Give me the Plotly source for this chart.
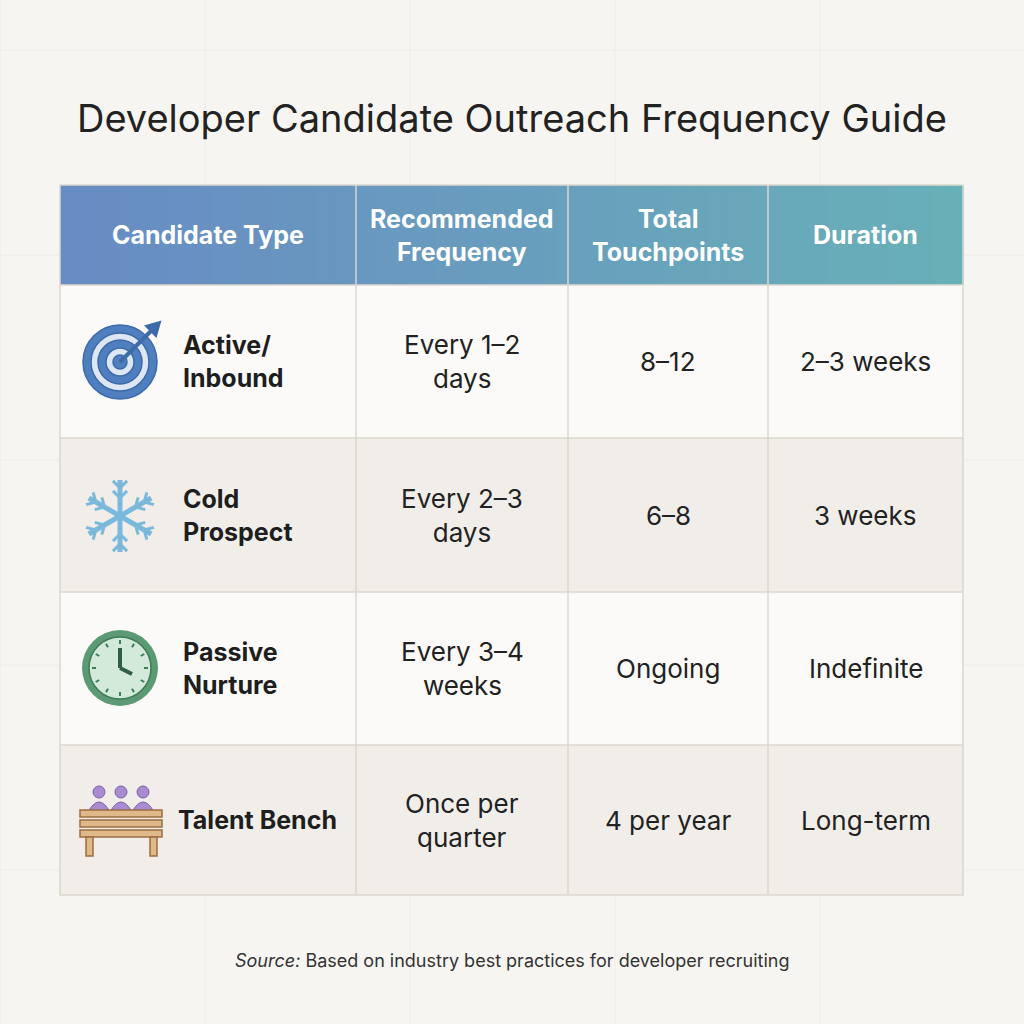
import numpy as np
import plotly.graph_objects as go

title = "Developer Candidate Outreach Frequency Guide"
headers = ["Candidate Type", "Recommended<br>Frequency", "Total<br>Touchpoints", "Duration"]
candidate_types = ["Active/<br>Inbound", "Cold<br>Prospect", "Passive<br>Nurture", "Talent Bench"]
frequencies = ["Every 1–2<br>days", "Every 2–3<br>days", "Every 3–4<br>weeks", "Once per<br>quarter"]
touchpoints = ["8–12", "6–8", "Ongoing", "4 per year"]
durations = ["2–3 weeks", "3 weeks", "Indefinite", "Long-term"]
source = "<i>Source:</i> Based on industry best practices for developer recruiting"

col_x = [60, 356, 568, 768, 963]
head_y = (185, 285)
row_y = [285, 438, 592, 745, 895]
row_fill = ["#fbfaf8", "#f1eeea", "#fbfaf8", "#f1eeea"]
line_col = "#dcd6cf"
font = "Inter, Roboto, sans-serif"

fig = go.Figure()
shapes = []
ann = []

# faint background grid
for g in range(0, 1025, 205):
    shapes.append(dict(type="line", x0=g, x1=g, y0=0, y1=1024, line=dict(color="#efece7", width=1), layer="below"))
    shapes.append(dict(type="line", x0=0, x1=1024, y0=g + 50, y1=g + 50, line=dict(color="#efece7", width=1), layer="below"))

# header gradient
c0 = np.array([104, 140, 196])
c1 = np.array([104, 176, 184])
n = 60
w = (col_x[-1] - col_x[0]) / n
for i in range(n):
    c = c0 + (c1 - c0) * i / (n - 1)
    shapes.append(dict(type="rect", x0=col_x[0] + i * w, x1=col_x[0] + (i + 1) * w + 0.8,
                       y0=head_y[0], y1=head_y[1], line=dict(width=0),
                       fillcolor="rgb(%d,%d,%d)" % tuple(c)))

for r in range(4):
    shapes.append(dict(type="rect", x0=col_x[0], x1=col_x[-1], y0=row_y[r], y1=row_y[r + 1],
                       line=dict(width=0), fillcolor=row_fill[r]))
    shapes.append(dict(type="line", x0=col_x[0], x1=col_x[-1], y0=row_y[r], y1=row_y[r],
                       line=dict(color=line_col, width=1.5)))
for cx in col_x[1:-1]:
    shapes.append(dict(type="line", x0=cx, x1=cx, y0=head_y[0], y1=row_y[-1],
                       line=dict(color=line_col, width=1.5)))
shapes.append(dict(type="rect", x0=col_x[0], x1=col_x[-1], y0=head_y[0], y1=row_y[-1],
                   line=dict(color=line_col, width=1.5)))

# header text
for i, h in enumerate(headers):
    ann.append(dict(x=(col_x[i] + col_x[i + 1]) / 2, y=sum(head_y) / 2, text="<b>%s</b>" % h,
                    font=dict(size=25, color="white", family=font)))

for r in range(4):
    yc = (row_y[r] + row_y[r + 1]) / 2
    ann.append(dict(x=181 if r < 3 else 176, y=yc, text="<b>%s</b>" % candidate_types[r], xanchor="left",
                    align="left", font=dict(size=25, color="#1e1e1e", family=font)))
    for i, vals in enumerate([frequencies, touchpoints, durations]):
        ann.append(dict(x=(col_x[i + 1] + col_x[i + 2]) / 2, y=yc, text=vals[r],
                        font=dict(size=26, color="#222", family=font)))

# icons
# target
yc = 362
for rad, col in [(37, "#4f7fbf"), (29, "#dde7f3"), (22, "#4f7fbf"), (14, "#dde7f3"), (7, "#4f7fbf")]:
    shapes.append(dict(type="circle", x0=120 - rad, x1=120 + rad, y0=yc - rad, y1=yc + rad,
                       fillcolor=col, line=dict(color="#3d6aa8", width=1.5)))
shapes.append(dict(type="line", x0=120, y0=yc, x1=155, y1=yc - 35, line=dict(color="#3d6aa8", width=4)))
shapes.append(dict(type="path", path="M 146 %d L 160 %d L 156 %d Z" % (yc - 36, yc - 40, yc - 26),
                   fillcolor="#3d6aa8", line=dict(color="#3d6aa8", width=2)))
# snowflake
yc = 516
for a in range(0, 180, 60):
    t = np.radians(a + 90)
    dx, dy = 36 * np.cos(t), 36 * np.sin(t)
    shapes.append(dict(type="line", x0=120 - dx, y0=yc - dy, x1=120 + dx, y1=yc + dy,
                       line=dict(color="#7ab8dc", width=5)))
for a in range(0, 360, 60):
    t = np.radians(a + 90)
    for d in (18, 28):
        bx, by = 120 + d * np.cos(t), yc + d * np.sin(t)
        for s in (-1, 1):
            t2 = t + s * np.radians(45)
            shapes.append(dict(type="line", x0=bx, y0=by, x1=bx + 10 * np.cos(t2), y1=by + 10 * np.sin(t2),
                               line=dict(color="#7ab8dc", width=3)))
# clock
yc = 668
shapes.append(dict(type="circle", x0=82, x1=158, y0=yc - 38, y1=yc + 38, fillcolor="#5b9a72", line=dict(width=0)))
shapes.append(dict(type="circle", x0=89, x1=151, y0=yc - 31, y1=yc + 31, fillcolor="#d3eadb",
                   line=dict(color="#3f7a56", width=1.5)))
for k in range(12):
    t = np.radians(k * 30)
    shapes.append(dict(type="line", x0=120 + 24 * np.cos(t), y0=yc + 24 * np.sin(t),
                       x1=120 + 28 * np.cos(t), y1=yc + 28 * np.sin(t), line=dict(color="#3f7a56", width=2)))
shapes.append(dict(type="line", x0=120, y0=yc, x1=120, y1=yc - 20, line=dict(color="#2f5e44", width=4)))
shapes.append(dict(type="line", x0=120, y0=yc, x1=132, y1=yc + 6, line=dict(color="#2f5e44", width=4)))
# bench with people
yc = 820
for px in (99, 121, 143):
    shapes.append(dict(type="circle", x0=px - 6, x1=px + 6, y0=yc - 34, y1=yc - 22, fillcolor="#a98bd1",
                       line=dict(color="#7b5fa8", width=1)))
    shapes.append(dict(type="path", path="M %d %d Q %d %d %d %d Z" % (px - 11, yc - 8, px, yc - 28, px + 11, yc - 8),
                       fillcolor="#a98bd1", line=dict(color="#7b5fa8", width=1)))
for y0 in (yc - 10, yc + 0, yc + 10):
    shapes.append(dict(type="rect", x0=80, x1=162, y0=y0, y1=y0 + 7, fillcolor="#e0b98a",
                       line=dict(color="#9a6e43", width=1.5)))
for lx in (86, 150):
    shapes.append(dict(type="rect", x0=lx, x1=lx + 7, y0=yc + 17, y1=yc + 36, fillcolor="#e0b98a",
                       line=dict(color="#9a6e43", width=1.5)))

ann.append(dict(x=512, y=118, text=title, font=dict(size=38, color="#222", family=font)))
ann.append(dict(x=512, y=960, text=source, font=dict(size=18, color="#333", family=font)))
for a in ann:
    a.update(xref="x", yref="y", showarrow=False)

fig.update_layout(width=1024, height=1024, margin=dict(l=0, r=0, t=0, b=0),
                  paper_bgcolor="#f7f5f1", plot_bgcolor="#f7f5f1",
                  xaxis=dict(range=[0, 1024], visible=False, fixedrange=True),
                  yaxis=dict(range=[1024, 0], visible=False, fixedrange=True),
                  shapes=shapes, annotations=ann, showlegend=False)
fig.write_html("out.html", config=dict(displayModeBar=False),
               post_script="document.body.style.margin='0';document.body.style.background='#f7f5f1';")
